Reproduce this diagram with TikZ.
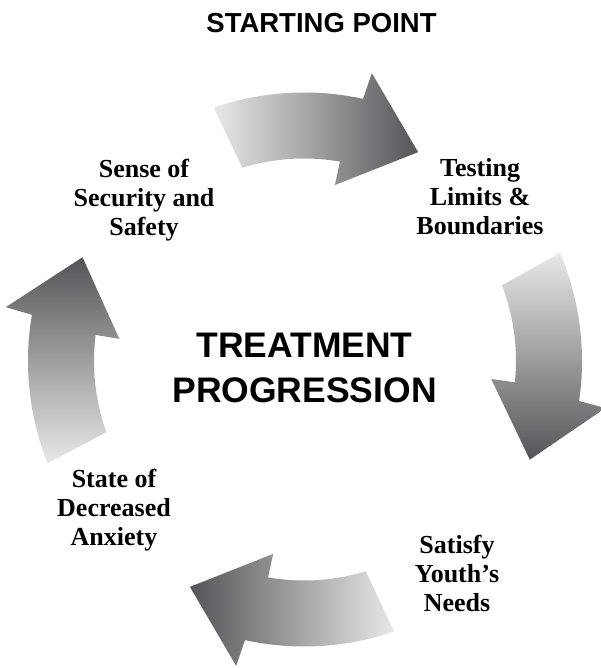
\documentclass[tikz,border=0pt]{standalone}
\usepackage{fontspec}
\setmainfont{Liberation Serif}
\newfontfamily\headfont{Liberation Sans}
\definecolor{arrowlight}{RGB}{232,232,234}
\definecolor{arrowdark}{RGB}{84,85,88}

% Curved block arrow on a circle: centre (#1,#2), rotation #3, shading options #4
\newcommand\cyclearrow[4]{%
  \begin{scope}[shift={(#1,#2)}]
    \shade[#4]
      ({#3+109}:277) arc[start angle={#3+109}, end angle={#3+77.7}, radius=277]
      -- ({#3+77.1}:304) -- ({#3+62.3}:245.5) -- ({#3+80.5}:187)
      -- ({#3+80.2}:211) arc[start angle={#3+80.2}, end angle={#3+107}, radius=211]
      -- cycle;
  \end{scope}}

\tikzset{
  stagelabel/.style={align=center, inner sep=0pt,
    font=\bfseries\fontsize{26}{29}\selectfont},
  titlelabel/.style={align=center, inner sep=0pt,
    font=\headfont\bfseries\fontsize{35.5}{45}\selectfont},
  startlabel/.style={inner sep=0pt, anchor=base,
    font=\headfont\bfseries\fontsize{27.5}{30}\selectfont}
}

\begin{document}
\begin{tikzpicture}[x=1pt,y=1pt]
  \useasboundingbox (0,0) rectangle (600,668);

  % the four arrows of the cycle
  \cyclearrow{304}{298.5}{0}{left color=arrowlight, right color=arrowdark}
  \cyclearrow{305}{307}{-86}{top color=arrowlight, bottom color=arrowdark}
  \cyclearrow{304}{298.5}{180}{right color=arrowlight, left color=arrowdark}
  \cyclearrow{305}{307}{92.7}{bottom color=arrowlight, top color=arrowdark}

  % labels
  \node[startlabel] (start) at (321.5,635) {STARTING POINT};
  \node[titlelabel] (title) at (304.5,300.5) {TREATMENT\\PROGRESSION};
  \node[stagelabel] (security) at (144,468) {Sense of\\Security and\\Safety};
  \node[stagelabel] (testing) at (480,471) {Testing\\Limits \&\\Boundaries};
  \node[stagelabel] (needs) at (457,95) {Satisfy\\Youth’s\\Needs};
  \node[stagelabel] (anxiety) at (114,157.5) {State of\\Decreased\\Anxiety};
\end{tikzpicture}
\end{document}
